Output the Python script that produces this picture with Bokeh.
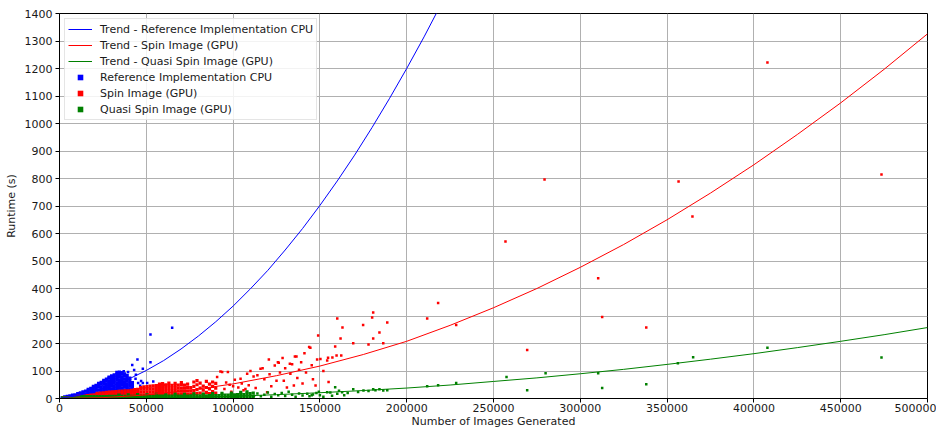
from bokeh.plotting import figure
from bokeh.models import Range1d, FixedTicker, BasicTickFormatter, Legend, LegendItem
from bokeh.embed import file_html
from bokeh.resources import INLINE

# ---------------- data ----------------
x_ticks = [0, 50000, 100000, 150000, 200000, 250000, 300000, 350000, 400000, 450000, 500000]
y_ticks = [0, 100, 200, 300, 400, 500, 600, 700, 800, 900, 1000, 1100, 1200, 1300, 1400]

# trend curves
trend_ref_x = [0, 10000, 20000, 30000, 40000, 50000, 60000, 70000, 80000, 90000, 100000,
               110000, 120000, 130000, 140000, 150000, 160000, 170000, 180000, 190000,
               200000, 210000, 220000]
trend_ref_y = [0, 10, 25, 45, 71, 102, 138, 180, 227, 279, 336, 399, 466, 540, 618, 702,
               791, 885, 985, 1090, 1200, 1315, 1436]
trend_spin_x = [0, 25000, 50000, 75000, 100000, 125000, 150000, 175000, 200000, 225000,
                250000, 275000, 300000, 325000, 350000, 375000, 400000, 425000, 450000,
                475000, 500000]
trend_spin_y = [0, 3, 13, 30, 53, 83, 118, 160, 208, 266, 330, 400, 477, 560, 650, 747,
                850, 960, 1075, 1197, 1326]
trend_quasi_x = [0, 25000, 50000, 75000, 100000, 125000, 150000, 175000, 200000, 225000,
                 250000, 275000, 300000, 325000, 350000, 375000, 400000, 425000, 450000,
                 475000, 500000]
trend_quasi_y = [0, 0.5, 2, 4, 8, 14, 21, 29, 38, 49, 62, 75, 90, 106, 124, 143, 163, 185,
                 208, 232, 258]

# Reference implementation CPU: dense cloud (x, runtimes at that x) + isolated points
ref_cloud = [
    (1500, [2]), (3000, [2, 6]), (4500, [3, 8]), (6000, [3, 10]), (7500, [4, 12]),
    (9000, [4, 13]), (10500, [5, 12, 18]), (12000, [6, 14, 21]), (13500, [7, 16, 24]),
    (15000, [7, 17, 27]), (16500, [8, 18, 27, 33]), (18000, [9, 19, 29, 37]),
    (19500, [9, 19, 29, 38, 44]), (21000, [10, 20, 30, 40, 48]),
    (22500, [11, 21, 31, 41, 50, 55]), (24000, [12, 22, 32, 42, 52, 59]),
    (25500, [12, 22, 32, 42, 52, 62, 66]), (27000, [13, 23, 33, 43, 53, 63, 71]),
    (28500, [14, 24, 34, 44, 54, 64, 74, 78]), (30000, [15, 25, 35, 45, 55, 65, 75, 82]),
    (31500, [16, 26, 36, 46, 56, 66, 76, 86]), (33000, [17, 27, 37, 47, 57, 67, 77, 87, 95]),
    (34500, [18, 28, 38, 48, 58, 68, 78, 88, 96]), (36000, [19, 29, 39, 49, 59, 69, 79, 89, 94]),
    (37500, [21, 31, 41, 51, 61, 71, 81, 90]), (39000, [23, 33, 43, 53, 63, 73, 84]),
    (40500, [25, 35, 45, 55, 65, 74]), (42000, [28, 38, 48, 58]),
]
ref_points = [
    (43000, 104), (41900, 122), (44900, 142), (48000, 108), (52400, 132), (52400, 233),
    (64900, 257), (48000, 56), (50500, 56), (54000, 62), (45300, 56), (43800, 72),
    (46500, 46), (44000, 86), (39500, 96), (37000, 99), (47000, 64),
]

# Spin Image (GPU)
spin_cloud = [
    (1800, [2]), (3600, [2]), (5400, [3]), (7200, [3]), (9000, [4]), (10800, [4, 8]),
    (12600, [5, 9]), (14400, [5, 10]), (16200, [6, 11]), (18000, [6, 12]), (19800, [6, 13]),
    (21600, [7, 14, 19]), (23400, [7, 15, 20]), (25200, [8, 16, 21]), (27000, [8, 17, 22]),
    (28800, [9, 18, 23]), (30600, [9, 18, 24]), (32400, [10, 19, 25]), (34200, [10, 20, 26]),
    (36000, [10, 20, 27]), (37800, [11, 21, 28]), (39600, [11, 21, 28]), (41400, [11, 22, 30]),
    (43200, [12, 22, 32]), (45000, [12, 23, 33]), (46800, [12, 23, 34, 40]),
    (48600, [13, 24, 35, 42]), (50400, [13, 24, 35, 43]), (52200, [13, 24, 35, 45]),
    (54000, [13, 24, 35, 46]), (55800, [14, 25, 36, 47]), (57600, [14, 25, 36, 47, 52]),
    (59400, [14, 25, 36, 47, 54]), (61200, [14, 25, 36, 47, 50]), (63000, [15, 26, 37, 48, 56]),
    (64800, [15, 26, 37, 48]), (66600, [15, 26, 37, 48, 55]), (68400, [15, 27, 38, 49]),
    (70200, [16, 27, 38, 50, 58]), (72000, [16, 27, 38, 49]), (73800, [16, 28, 40, 52]),
    (75600, [16, 28, 40]), (77400, [17, 29, 44, 60]), (79200, [18, 32, 50, 65]),
    (81000, [20, 38, 56]), (82800, [15, 30, 45]), (84600, [22, 40, 62]), (86400, [18, 35, 52]),
    (88200, [25, 44, 60]), (90000, [20, 38, 55]),
]
spin_points = [
    (90800, 78), (92700, 98), (93700, 96), (95000, 35), (96000, 58), (97000, 96), (98000, 50),
    (99000, 25), (100000, 45), (101000, 68), (103000, 40), (104300, 72), (105000, 55),
    (106000, 30), (107100, 35), (108100, 90), (109000, 48), (110000, 100), (111800, 80),
    (113000, 38), (114000, 85), (115800, 108), (117000, 110), (118000, 70), (119600, 23),
    (120600, 142), (121000, 88), (122000, 45), (124000, 120), (125000, 65), (125800, 132),
    (126300, 130), (127000, 95), (128500, 147), (129200, 65), (130000, 110), (131000, 40),
    (132700, 126), (133000, 90), (134000, 125), (135000, 47), (135600, 153), (136500, 153),
    (137000, 75), (138000, 105), (139200, 132), (140000, 55), (141100, 165), (142000, 95),
    (143800, 187), (144500, 185), (145300, 121), (146000, 70), (147500, 47), (148400, 142),
    (149000, 229), (150300, 144), (152000, 100), (154200, 138), (154700, 148), (155000, 60),
    (157200, 149), (158800, 189), (159600, 156), (160000, 291), (161900, 218), (162300, 156),
    (163000, 258), (169200, 201), (174900, 267), (178000, 196), (180100, 295), (180700, 313),
    (180700, 218), (184300, 240), (186500, 201), (188800, 276), (211800, 291), (218100, 347),
    (228500, 267), (256900, 571), (269400, 176), (279400, 796), (310300, 437), (312600, 296),
    (338000, 258), (356600, 789), (364600, 662), (407800, 1222), (473500, 815),
]

# Quasi Spin Image (GPU)
quasi_cloud = [
    (1800, [2]), (3600, [2]), (5400, [2]), (7200, [2]), (9000, [2]), (10800, [2]),
    (12600, [2, 7]), (14400, [2, 7]), (16200, [2, 7]), (18000, [2, 7]), (19800, [2, 7]),
    (21600, [2, 7]), (23400, [2, 7]), (25200, [2, 7]), (27000, [2, 7]), (28800, [2, 8]),
    (30600, [2, 8]), (32400, [2, 8]), (34200, [2, 8, 12]), (36000, [2, 8]), (37800, [2, 8]),
    (39600, [2, 8, 13]), (41400, [2, 8]), (43200, [2, 8]), (45000, [2, 8, 14]), (46800, [2, 8]),
    (48600, [2, 8]), (50400, [2, 8, 13]), (52200, [2, 8]), (54000, [2, 8]), (55800, [2, 9, 15]),
    (57600, [2, 9]), (59400, [2, 9]), (61200, [2, 9, 14]), (63000, [2, 9]), (64800, [2, 9]),
    (66600, [2, 9, 16]), (68400, [2, 9]), (70200, [2, 9]), (72000, [2, 9, 15]), (73800, [2, 9]),
    (75600, [2, 10]), (77400, [2, 10, 17]), (79200, [2, 10]), (81000, [2, 10]),
    (82800, [2, 10, 16]), (84600, [2, 10]), (86400, [2, 11]), (88200, [2, 11, 18]),
    (90000, [2, 11]), (91800, [2, 11]), (93600, [3, 12, 19]), (95400, [3, 12]), (97200, [3, 12]),
    (99000, [3, 13, 20]), (100800, [3, 13]), (102600, [4, 14]), (104400, [5, 15, 22]),
    (106200, [5, 14]), (108000, [6, 16, 24]), (109800, [6, 18]), (111600, [8, 20]),
]
quasi_points = [
    (112000, 10), (114000, 18), (116000, 8), (118000, 14), (120000, 22), (122000, 6),
    (124000, 16), (126000, 12), (128000, 20), (130000, 9), (132000, 25), (134000, 14),
    (136000, 6), (138000, 18), (140000, 11), (142700, 17), (144000, 8), (145300, 12),
    (146000, 15), (148000, 20), (149400, 25), (150000, 12), (152000, 6), (154200, 23),
    (156000, 22), (157000, 10), (158800, 41), (160000, 17), (161000, 28), (162800, 23),
    (164000, 12), (166000, 20), (169200, 34), (172000, 24), (175100, 29), (178000, 27),
    (180700, 34), (182000, 30), (184300, 34), (186500, 29), (188800, 30), (211800, 45),
    (218100, 48), (228500, 56), (257500, 78), (269400, 30), (280000, 92), (310300, 92),
    (312600, 38), (338000, 52), (356200, 128), (365000, 150), (407800, 185), (473500, 149),
]

labels_trend = ["Trend - Reference Implementation CPU", "Trend - Spin Image (GPU)",
                "Trend - Quasi Spin Image (GPU)"]
labels_points = ["Reference Implementation CPU", "Spin Image (GPU)", "Quasi Spin Image (GPU)"]
colors = ["#0000ff", "#ff0000", "#008000"]


def gather_cloud(cloud):
    xs, ys = [], []
    for x, col in cloud:
        for y in col:
            xs.append(x)
            ys.append(y)
    return xs, ys


def gather_points(points):
    return [x for x, _ in points], [y for _, y in points]


FONT = "DejaVu Sans"

p = figure(width=936, height=430,
           x_range=Range1d(0, 500000), y_range=Range1d(0, 1400),
           output_backend="svg", toolbar_location=None,
           min_border_left=59, min_border_right=9, min_border_top=13, min_border_bottom=32)

p.background_fill_color = "white"
p.border_fill_color = "white"
p.outline_line_color = "#000000"
p.outline_line_width = 1

for ax in (p.xaxis[0], p.yaxis[0]):
    ax.axis_line_color = "#000000"
    ax.major_tick_line_color = "#000000"
    ax.major_tick_out = 4
    ax.major_tick_in = 0
    ax.minor_tick_line_color = None
    ax.major_label_text_font = FONT
    ax.major_label_text_font_size = "11px"
    ax.major_label_text_color = "#1a1a1a"
    ax.axis_label_text_font = FONT
    ax.axis_label_text_font_size = "11px"
    ax.axis_label_text_font_style = "normal"
    ax.axis_label_text_color = "#1a1a1a"

p.xaxis.major_label_standoff = 1
p.xaxis.axis_label_standoff = 0
p.yaxis.major_label_standoff = 3
p.yaxis.axis_label_standoff = 4

p.xaxis.ticker = FixedTicker(ticks=x_ticks)
p.yaxis.ticker = FixedTicker(ticks=y_ticks)
p.xaxis.formatter = BasicTickFormatter(use_scientific=False)
p.yaxis.formatter = BasicTickFormatter(use_scientific=False)
p.xaxis.axis_label = "Number of Images Generated"
p.yaxis.axis_label = "Runtime (s)"

p.grid.grid_line_color = "#b0b0b0"
p.grid.grid_line_width = 1

clouds = [ref_cloud, spin_cloud, quasi_cloud]
isolated = [ref_points, spin_points, quasi_points]
for cloud, pts, c in zip(clouds, isolated, colors):
    cx, cy = gather_cloud(cloud)
    p.scatter(cx, cy, marker="square", size=3.2, fill_color=c, line_color=None)
    px, py = gather_points(pts)
    p.scatter(px, py, marker="square", size=2.5, fill_color=c, line_color=None)

trends = [(trend_ref_x, trend_ref_y), (trend_spin_x, trend_spin_y), (trend_quasi_x, trend_quasi_y)]
line_renderers = []
for (tx, ty), c in zip(trends, colors):
    line_renderers.append(p.line(tx, ty, line_color=c, line_width=1))

# legend swatches for the point series (a single NaN point: never drawn in the plot)
nan = float("nan")
swatch_renderers = []
for c in colors:
    swatch_renderers.append(p.scatter(x=[nan], y=[nan], marker="square", size=6,
                                      fill_color=c, line_color=None))

items = [LegendItem(label=l, renderers=[r]) for l, r in zip(labels_trend, line_renderers)]
items += [LegendItem(label=l, renderers=[r]) for l, r in zip(labels_points, swatch_renderers)]
legend = Legend(items=items, location="top_left")
legend.label_text_font = FONT
legend.label_text_font_size = "11px"
legend.label_text_color = "#1a1a1a"
legend.glyph_width = 24
legend.glyph_height = 14
legend.label_height = 14
legend.label_standoff = 8
legend.spacing = 2
legend.padding = 3
legend.margin = 5
legend.border_line_color = "#cccccc"
legend.border_line_width = 1
legend.background_fill_alpha = 0.85
p.add_layout(legend)

open("out.html", "w").write(file_html(p, INLINE))
